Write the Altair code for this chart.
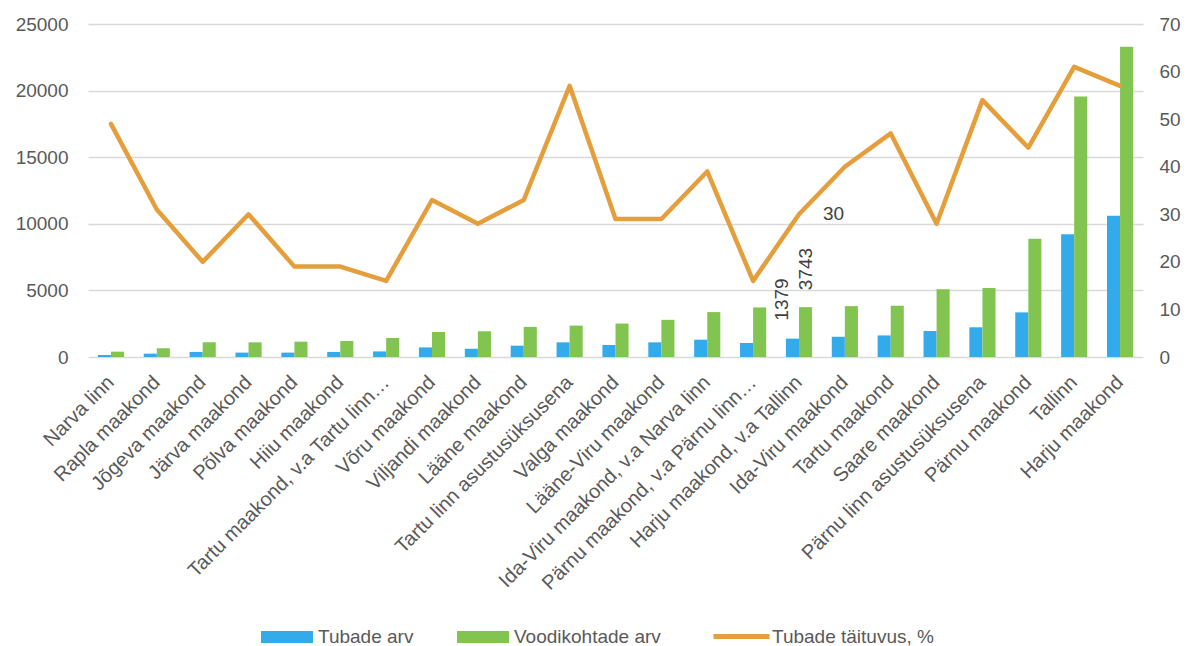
import altair as alt
import pandas as pd

categories = [
    "Narva linn", "Rapla maakond", "Jõgeva maakond", "Järva maakond", "Põlva maakond",
    "Hiiu maakond", "Tartu maakond, v.a Tartu linn…", "Võru maakond", "Viljandi maakond",
    "Lääne maakond", "Tartu linn asustusüksusena", "Valga maakond", "Lääne-Viru maakond",
    "Ida-Viru maakond, v.a Narva linn", "Pärnu maakond, v.a Pärnu linn…",
    "Harju maakond, v.a Tallinn", "Ida-Viru maakond", "Tartu maakond", "Saare maakond",
    "Pärnu linn asustusüksusena", "Pärnu maakond", "Tallinn", "Harju maakond",
]
tubade_arv = [150, 250, 380, 330, 330, 380, 420, 720, 620, 850, 1100, 900, 1100,
              1300, 1050, 1379, 1520, 1620, 1950, 2230, 3350, 9220, 10600]
voodikohtade_arv = [400, 650, 1100, 1100, 1150, 1200, 1430, 1880, 1930, 2260, 2360, 2510,
                    2790, 3370, 3720, 3743, 3820, 3850, 5080, 5180, 8880, 19550, 23300]
taituvus = [49, 31, 20, 30, 19, 19, 16, 33, 28, 33, 57, 29, 29, 39, 16, 30, 40, 47,
            28, 54, 44, 61, 57]

S1 = "Tubade arv"
S2 = "Voodikohtade arv"
S3 = "Tubade täituvus, %"
label_cat = "Harju maakond, v.a Tallinn"

df = pd.DataFrame({"cat": categories, S1: tubade_arv, S2: voodikohtade_arv, "pct": taituvus})

FONT = "Liberation Sans"
GREY = "#595959"
W, H = 1055, 333

x_scale = alt.Scale(paddingInner=0.43, paddingOuter=0.215)
x_axis = alt.Axis(domain=False, ticks=False, grid=False, labelPadding=14, offset=8)
x_enc = alt.X("cat:N", sort=categories, title=None, scale=x_scale, axis=x_axis)
off_scale = alt.Scale(domain=[S1, S2], paddingInner=0, paddingOuter=0)
y_left = alt.Scale(domain=[0, 25000])
left_axis = alt.Axis(values=[0, 5000, 10000, 15000, 20000, 25000], format="d",
                     grid=True, gridColor="#D9D9D9", gridWidth=1.3, labelPadding=20,
                     domain=False, ticks=False)

bars = alt.Chart(df).transform_fold([S1, S2], as_=["series", "value"]).mark_bar().encode(
    x=x_enc,
    xOffset=alt.XOffset("series:N", scale=off_scale),
    y=alt.Y("value:Q", scale=y_left, title=None, axis=left_axis),
    color=alt.Color("series:N", scale=alt.Scale(domain=[S1, S2], range=["#33ABEA", "#82C450"]),
                    legend=alt.Legend(title=None, orient="none", direction="horizontal",
                                      legendX=173, legendY=587, padding=0,
                                      symbolType="M-1,-0.23H1V0.23H-1Z", symbolSize=2704,
                                      symbolStrokeWidth=0, labelOffset=5, columnPadding=43,
                                      labelLimit=300)),
)

labels_blue = alt.Chart(df).transform_filter(alt.datum.cat == label_cat).transform_calculate(
    series=f"'{S1}'").mark_text(angle=270, align="left", baseline="middle", dx=18, dy=-10,
                                fontSize=19, font=FONT, color="#404040").encode(
    x=x_enc,
    xOffset=alt.XOffset("series:N", scale=off_scale),
    y=alt.Y(f"{S1}:Q", scale=y_left, title=None, axis=left_axis),
    text=alt.Text(f"{S1}:Q", format="d"),
)
labels_green = alt.Chart(df).transform_filter(alt.datum.cat == label_cat).transform_calculate(
    series=f"'{S2}'").mark_text(angle=270, align="left", baseline="middle", dx=17, dy=0,
                                fontSize=19, font=FONT, color="#404040").encode(
    x=x_enc,
    xOffset=alt.XOffset("series:N", scale=off_scale),
    y=alt.Y(f"{S2}:Q", scale=y_left, title=None, axis=left_axis),
    text=alt.Text(f"{S2}:Q", format="d"),
)

left = alt.layer(bars, labels_blue, labels_green)

y_right = alt.Scale(domain=[0, 70])
right_axis = alt.Axis(orient="right", values=[0, 10, 20, 30, 40, 50, 60, 70], grid=False,
                      labelPadding=16, domain=False, ticks=False)
line = alt.Chart(df).transform_calculate(series=f"'{S3}'").mark_line(
    strokeWidth=4.5, strokeJoin="round", strokeCap="round").encode(
    x=x_enc,
    y=alt.Y("pct:Q", scale=y_right, title=None, axis=right_axis),
    stroke=alt.Stroke("series:N", scale=alt.Scale(domain=[S3], range=["#E49E3C"]),
                      legend=alt.Legend(title=None, orient="none", direction="horizontal",
                                        legendX=623, legendY=582, padding=0,
                                        symbolType="stroke", symbolSize=3136,
                                        symbolStrokeWidth=5, labelOffset=0,
                                        labelLimit=300)),
)
line_label = alt.Chart(df).transform_filter(alt.datum.cat == label_cat).mark_text(
    align="left", baseline="middle", dx=24, dy=0, fontSize=19, font=FONT, color="#404040").encode(
    x=x_enc,
    y=alt.Y("pct:Q", scale=y_right, title=None, axis=right_axis),
    text=alt.Text("pct:Q"),
)
right = alt.layer(line, line_label)

chart = alt.layer(left, right).resolve_scale(y="independent").properties(
    width=W, height=H,
    autosize=alt.AutoSizeParams(type="none"),
    padding={"left": 80, "top": 16, "right": 39, "bottom": 289},
).configure(font=FONT).configure_view(
    strokeWidth=0, stroke="transparent", strokeOpacity=0,
).configure_axis(
    domain=False, domainOpacity=0, ticks=False, grid=False,
    labelFont=FONT, labelFontSize=19, labelColor=GREY,
).configure_axisX(
    labelAngle=-45, labelAlign="right", labelBaseline="middle", labelPadding=14,
    labelFontSize=20, labelLimit=400, gridOpacity=0,
).configure_legend(
    labelFont=FONT, labelFontSize=19, labelColor=GREY,
)

chart.save("out.html", embed_options={"renderer": "svg", "actions": False})
